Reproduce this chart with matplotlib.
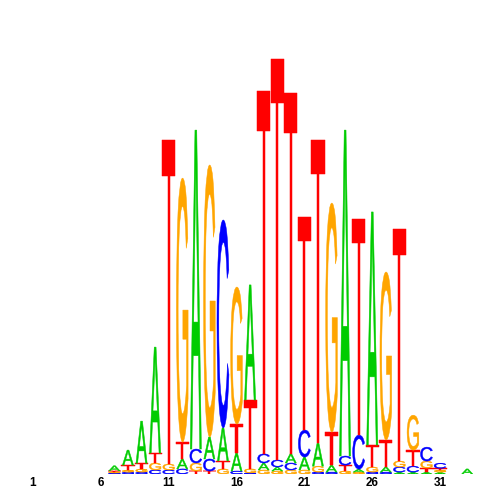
import matplotlib
matplotlib.use("Agg")
import matplotlib.pyplot as plt
from matplotlib.textpath import TextPath
from matplotlib.patches import PathPatch
from matplotlib.font_manager import FontProperties
from matplotlib.transforms import Affine2D

# information content (bits) per letter, positions 1..33
positions = list(range(1, 34))
bits_A = [0, 0, 0, 0, 0, 0, 0.024, 0.071, 0.199, 0.501, 0.0, 0.047, 1.508, 0.104, 0.156, 0.085, 0.544,
          0.033, 0.019, 0.043, 0.061, 0.109, 0.033, 1.541, 0.014, 1.102, 0.024, 0.009, 0.009, 0.009, 0.009, 0, 0.024]
bits_C = [0, 0, 0, 0, 0, 0, 0.005, 0.009, 0.009, 0.019, 0.019, 0.024, 0.066, 0.057, 0.983, 0.014, 0.005,
          0.043, 0.033, 0.033, 0.128, 0.009, 0.009, 0.043, 0.161, 0.009, 0.009, 0.024, 0.028, 0.066, 0.024, 0, 0]
bits_G = [0, 0, 0, 0, 0, 0, 0.005, 0.009, 0.014, 0.033, 0.028, 1.248, 0.038, 1.286, 0.024, 0.648, 0.019,
          0.019, 0.014, 0.019, 0.019, 0.028, 1.083, 0.014, 0.009, 0.024, 0.794, 0.028, 0.165, 0.033, 0.009, 0, 0]
bits_T = [0, 0, 0, 0, 0, 0, 0.005, 0.024, 0.028, 0.047, 1.532, 0.080, 0.014, 0.014, 0.038, 0.137, 0.326,
          1.716, 1.896, 1.707, 1.007, 1.433, 0.156, 0.028, 1.021, 0.104, 0.128, 1.097, 0.076, 0.019, 0.009, 0, 0]
tick_positions = [1, 6, 11, 16, 21, 26, 31]

colors = {"A": "#00CC00", "C": "#0000FF", "G": "#FFA500", "T": "#FF0000"}
# glyphs keep their side bearings, so they are not all equally wide
widths = {"A": 0.82, "C": 0.88, "G": 0.86, "T": 0.97}
font = FontProperties(family="Liberation Sans", weight="normal")


def draw_letter(ax, ch, x, y, w, h, color):
    """Stretch a glyph to fill the box centred on x, from y to y + h."""
    path = TextPath((0, 0), ch, size=1, prop=font)
    ext = path.get_extents()
    t = (Affine2D().translate(-ext.x0, -ext.y0)
         .scale(w / ext.width, h / ext.height)
         .translate(x - w / 2, y))
    ax.add_patch(PathPatch(t.transform_path(path), fc=color, ec=color, lw=0.35))


fig = plt.figure(figsize=(5, 5), dpi=100)
ax = fig.add_axes([0.0524, 0.052, 0.8956, 0.846])

for i, pos in enumerate(positions):
    column = [("A", bits_A[i]), ("C", bits_C[i]), ("G", bits_G[i]), ("T", bits_T[i])]
    column.sort(key=lambda item: item[1])
    y = 0
    for ch, h in column:
        if h > 0:
            draw_letter(ax, ch, pos, y, widths[ch], h, colors[ch])
            y += h

ax.set_xlim(0.5, 33.5)
ax.set_ylim(0, 2)
for s in ax.spines.values():
    s.set_visible(False)
ax.set_yticks([])
ax.set_xticks(tick_positions)
ax.set_xticklabels([str(t) for t in tick_positions], fontsize=8.5, fontweight="bold",
                   family="Liberation Sans")
ax.tick_params(axis="x", length=0, pad=2)

fig.savefig("out.png", dpi=100)
